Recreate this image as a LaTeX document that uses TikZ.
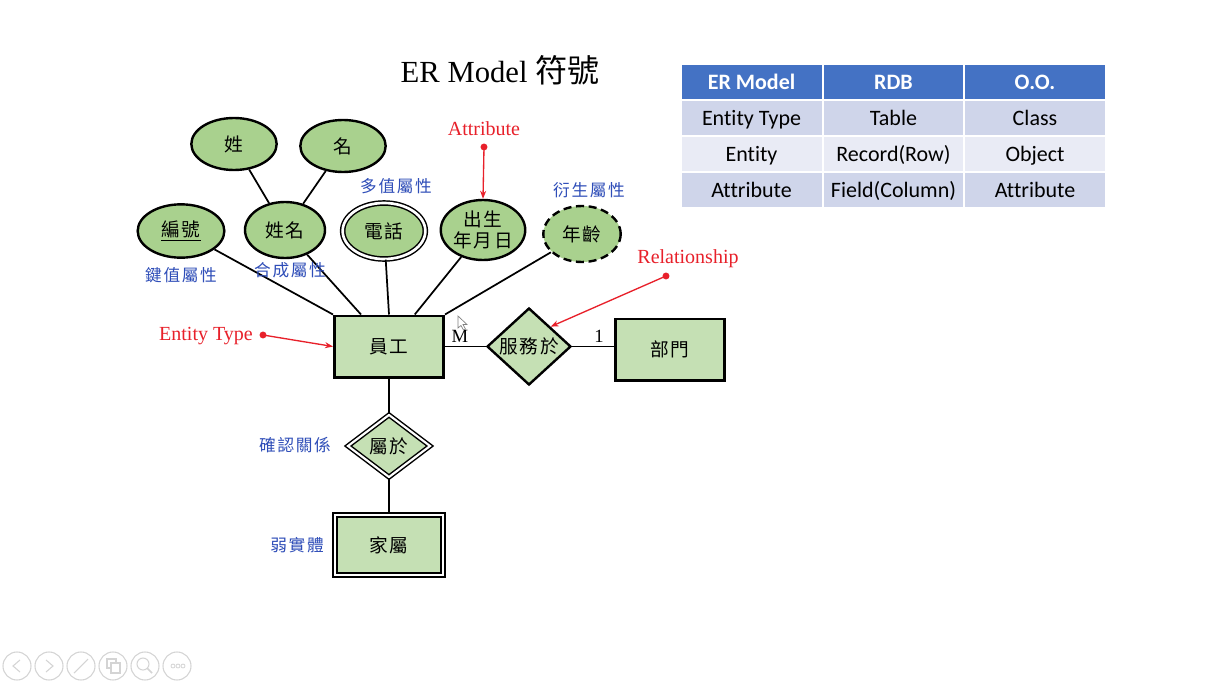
\documentclass[tikz,border=0pt]{standalone}
\usepackage{fontspec}
\setmainfont{Liberation Serif}
\newfontfamily\cjkfont{Noto Sans CJK TC}
\newfontfamily\cjkspaced{Noto Sans CJK TC}[LetterSpace=10]
\newfontfamily\tabfont{Carlito}[Ligatures=CommonOff]
\usetikzlibrary{shapes.geometric,arrows.meta,calc}
\definecolor{attrgreen}{HTML}{A9D18E}
\definecolor{entgreen}{HTML}{C5E0B4}
\definecolor{annred}{HTML}{E8202A}
\definecolor{lblblue}{HTML}{2E4DB8}
\definecolor{hdrblue}{HTML}{4472C4}
\definecolor{rowdark}{HTML}{CFD5EA}
\definecolor{rowlight}{HTML}{E9EBF5}
\definecolor{icongray}{HTML}{D4D4D4}
\begin{document}
\begin{tikzpicture}[x=0.75pt,y=-0.75pt,
  cjk/.style={font=\cjkspaced\fontsize{14pt}{16pt}\selectfont},
  attr/.style={ellipse,draw,fill=attrgreen,line width=1.8pt,inner sep=0pt,cjk,align=center},
  entity/.style={rectangle,draw,fill=entgreen,line width=2pt,inner sep=0pt,cjk,
     minimum width=82pt,minimum height=46pt},
  rel/.style={diamond,draw,fill=entgreen,line width=1.8pt,inner sep=0pt,cjk,
     minimum width=63pt,minimum height=47pt},
  conn/.style={line width=1.3pt},
  ann/.style={annred,line width=1pt,-{Stealth[length=6pt,width=4.5pt]}},
  annlbl/.style={text=annred,font=\fontsize{15pt}{17pt}\selectfont},
  lbl/.style={text=lblblue,font=\cjkspaced\fontsize{12.5pt}{14pt}\selectfont},
  num/.style={font=\fontsize{14pt}{16pt}\selectfont},
  tcell/.style={rectangle,draw=white,line width=1.5pt,minimum width=106.5pt,minimum height=27pt,
     inner sep=0pt,text height=13pt,text depth=2pt,font=\tabfont\fontsize{16.5pt}{18pt}\selectfont},
  hcell/.style={tcell,fill=hdrblue,text=white,font=\tabfont\bfseries\fontsize{16.5pt}{18pt}\selectfont},
  icon/.style={draw=icongray,line width=0.8pt}
]
\useasboundingbox (0,0) rectangle (1218,682);
\fill[white] (0,0) rectangle (1218,682);

% title
\node (title) at (500,70) {\fontsize{23pt}{26pt}\selectfont ER Model {\cjkfont\fontsize{24pt}{26pt}\selectfont 符號}};

% attributes
\node[attr,minimum width=64pt,minimum height=39pt] (xing) at (234,144) {姓};
\node[attr,minimum width=64pt,minimum height=39pt] (ming) at (343,146) {名};
\node[attr,minimum width=65pt,minimum height=40pt] (bh) at (181,231) {\underline{編號}};
\node[attr,minimum width=60pt,minimum height=42pt] (xm) at (285,230) {姓名};
\node[attr,draw=black,double=white,double distance=2pt,line width=1.1pt,
      minimum width=62pt,minimum height=42pt] (dh) at (384,231) {電話};
\node[attr,minimum width=58pt,minimum height=45pt,font=\cjkspaced\fontsize{14pt}{15.5pt}\selectfont] (dob) at (483,230) {出生\\年月日};
\node[attr,dash pattern=on 6pt off 3.5pt,minimum width=58pt,minimum height=42pt] (age) at (582,234) {年齡};

% entities and relationships
\node[entity] (emp) at (389,346.5) {員工};
\node[entity] (dept) at (670,349.5) {部門};
\node[rel] (ser) at (529,346.5) {服務於};
\node[rel,double=white,double distance=1.6pt,line width=1.1pt,
      minimum width=62pt,minimum height=47pt] (bel) at (389,446) {屬於};
\node[rectangle,draw,fill=entgreen,double=white,double distance=1.8pt,line width=1.2pt,
      inner sep=0pt,cjk,minimum width=81pt,minimum height=45pt] (fam) at (389,545) {家屬};

% connectors
\draw[conn] (xing) -- (xm);
\draw[conn] (ming) -- (xm);
\draw[conn] (bh) -- (emp.north west);
\draw[conn] (xm) -- ($(emp.north west)!0.25!(emp.north east)$);
\draw[conn] (dh) -- (emp.north);
\draw[conn] (dob) -- ($(emp.north west)!0.73!(emp.north east)$);
\draw[conn] (age) -- (emp.north east);
\draw[conn] (emp.east) -- (ser.west);
\draw[conn] (ser.east) -- (ser.east -| dept.west);
\draw[conn] (emp.south) -- (bel.north);
\draw[conn] (bel.south) -- (fam.north);

% cardinalities
\node[num] (m) at (460,336) {M};
\node[num] (one) at (599,336) {1};

% red annotations
\node[annlbl] (attrlbl) at (484,129) {Attribute};
\coordinate (adot) at (484,147);
\fill[annred] (adot) circle (2.6pt);
\draw[ann] (adot) -- (dob.north);
\node[annlbl] (rellbl) at (688,259) {Relationship};
\coordinate (rdot) at (666,276);
\fill[annred] (rdot) circle (2.6pt);
\draw[ann] (rdot) -- (ser.north east);
\node[annlbl] (entlbl) at (206,336) {Entity Type};
\coordinate (edot) at (263,335);
\fill[annred] (edot) circle (2.6pt);
\draw[ann] (edot) -- (emp.west);

% blue labels
\node[lbl] (l1) at (181,275) {鍵值屬性};
\node[lbl] (l2) at (290,270) {合成屬性};
\node[lbl] (l3) at (396,186) {多值屬性};
\node[lbl] (l4) at (589,190) {衍生屬性};
\node[lbl] (l5) at (295,445) {確認關係};
\node[lbl] (l6) at (297,545) {弱實體};

% table
\node[hcell] (h1) at (751.5,82) {ER Model};
\node[hcell] (h2) at (893.5,82) {RDB};
\node[hcell] (h3) at (1035,82) {O.O.};
\node[tcell,fill=rowdark] (a1) at (751.5,118) {Entity Type};
\node[tcell,fill=rowdark] (a2) at (893.5,118) {Table};
\node[tcell,fill=rowdark] (a3) at (1035,118) {Class};
\node[tcell,fill=rowlight] (b1) at (751.5,154) {Entity};
\node[tcell,fill=rowlight] (b2) at (893.5,154) {Record(Row)};
\node[tcell,fill=rowlight] (b3) at (1035,154) {Object};
\node[tcell,fill=rowdark] (c1) at (751.5,190) {Attribute};
\node[tcell,fill=rowdark] (c2) at (893.5,190) {Field(Column)};
\node[tcell,fill=rowdark] (c3) at (1035,190) {Attribute};

% mouse cursor
\draw[gray,line width=0.5pt,fill=white] (458,316) -- (458,328) -- (461,325.5) -- (463.5,330) -- (465.5,329) -- (463,324.5) -- (467,324.5) -- cycle;

% slideshow toolbar icons
\foreach \i in {0,...,5} { \draw[icon] (17+32*\i,666) circle (10.5pt); }
\draw[icon] (20,660) -- (13,666) -- (20,672);
\draw[icon] (46,660) -- (53,666) -- (46,672);
\draw[icon] (74,673) -- (88,659);
\draw[icon] (107,659) rectangle (116,668);
\draw[icon,fill=white] (111,663) rectangle (120,673);
\draw[icon] (143,664) circle (4.5pt);
\draw[icon,line width=1.3pt] (147,668) -- (152,673);
\foreach \k in {-1,0,1} { \draw[icon,line width=0.6pt] (178+5*\k,666) circle (1.5pt); }
\end{tikzpicture}
\end{document}
